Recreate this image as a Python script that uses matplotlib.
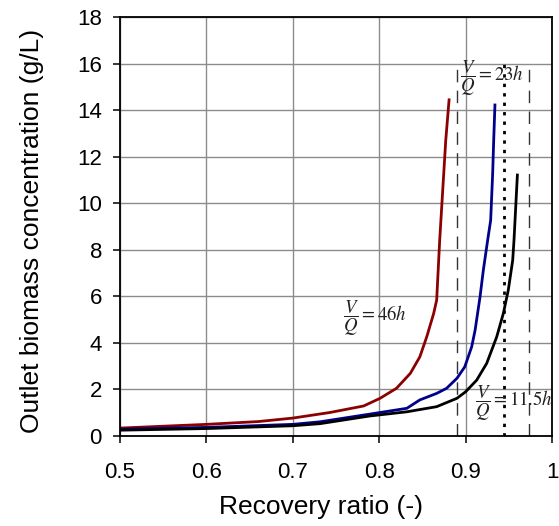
import matplotlib
matplotlib.use("Agg")
import matplotlib.pyplot as plt

plt.rcParams['font.family'] = ['Liberation Sans', 'DejaVu Sans']
plt.rcParams['mathtext.fontset'] = 'stix'

# Recovery ratio (x) and outlet biomass concentration (y) for each V/Q
x_46 = [0.50, 0.60, 0.66, 0.70, 0.743, 0.782, 0.801, 0.820, 0.836, 0.847, 0.855, 0.863, 0.8665, 0.870, 0.877, 0.881]
y_46 = [0.34, 0.50, 0.62, 0.77, 1.01, 1.29, 1.62, 2.05, 2.69, 3.40, 4.26, 5.26, 5.84, 8.41, 12.7, 14.5]

x_23 = [0.50, 0.60, 0.70, 0.7315, 0.789, 0.832, 0.847, 0.8665, 0.878, 0.890, 0.899, 0.907, 0.911, 0.9167, 0.9205, 0.9255, 0.929, 0.9313, 0.9325, 0.934]
y_23 = [0.29, 0.37, 0.50, 0.61, 0.94, 1.19, 1.55, 1.83, 2.05, 2.48, 2.97, 3.83, 4.55, 5.98, 7.12, 8.41, 9.27, 11.27, 12.7, 14.28]

x_115 = [0.50, 0.60, 0.70, 0.7315, 0.789, 0.832, 0.8665, 0.890, 0.900, 0.9128, 0.9244, 0.936, 0.9437, 0.9494, 0.9545, 0.956, 0.960]
y_115 = [0.25, 0.32, 0.44, 0.53, 0.86, 1.04, 1.26, 1.62, 1.90, 2.40, 3.12, 4.26, 5.27, 6.27, 7.55, 8.41, 11.27]

dashed_x = [0.89, 0.973]
dotted_x = [0.945]
vline_top = 16

xticks = [0.5, 0.6, 0.7, 0.8, 0.9, 1.0]
xticklabels = ['0.5', '0.6', '0.7', '0.8', '0.9', '1']
yticks = list(range(0, 19, 2))

fig = plt.figure(figsize=(5.59, 5.26), dpi=100)
ax = fig.add_axes([0.2147, 0.1711, 0.7728, 0.7966])

ax.set_xlim(0.5, 1.0)
ax.set_ylim(0, 18)
ax.set_xticks(xticks)
ax.set_xticklabels(xticklabels)
ax.set_yticks(yticks)
ax.grid(True, color='#8c8c8c', linewidth=1.0)
ax.set_axisbelow(True)

for s in ax.spines.values():
    s.set_color('black')
    s.set_linewidth(1.3)

ax.tick_params(direction='out', length=5, width=1.1, labelsize=16)
ax.tick_params(axis='x', pad=14)
ax.tick_params(axis='y', pad=8)

for xv in dashed_x:
    ax.plot([xv, xv], [0, vline_top], color='#333333', lw=1.0, dashes=(9, 6))
for xv in dotted_x:
    ax.plot([xv, xv], [0, vline_top], color='black', lw=2.0, dashes=(1.2, 2.2))

ax.plot(x_46, y_46, color='#8b0000', lw=2.0, solid_capstyle='butt')
ax.plot(x_23, y_23, color='#00008b', lw=2.0, solid_capstyle='butt')
ax.plot(x_115, y_115, color='black', lw=2.0, solid_capstyle='butt')

tc = '#222222'
ax.text(0.758, 5.06, r'$\dfrac{V}{Q}=46h$', fontsize=13.5, color=tc, va='center', ha='left')
ax.text(0.893, 15.36, r'$\dfrac{V}{Q}=23h$', fontsize=13.5, color=tc, va='center', ha='left')
ax.text(0.911, 1.42, r'$\dfrac{V}{Q}=11.5h$', fontsize=13.5, color=tc, va='center', ha='left')

ax.set_xlabel('Recovery ratio (-)', fontsize=19)
ax.set_ylabel('Outlet biomass concentration (g/L)', fontsize=19)
ax.xaxis.set_label_coords(0.465, -0.141)
ax.yaxis.set_label_coords(-0.176, 0.489)

fig.savefig('out.png', dpi=100)
